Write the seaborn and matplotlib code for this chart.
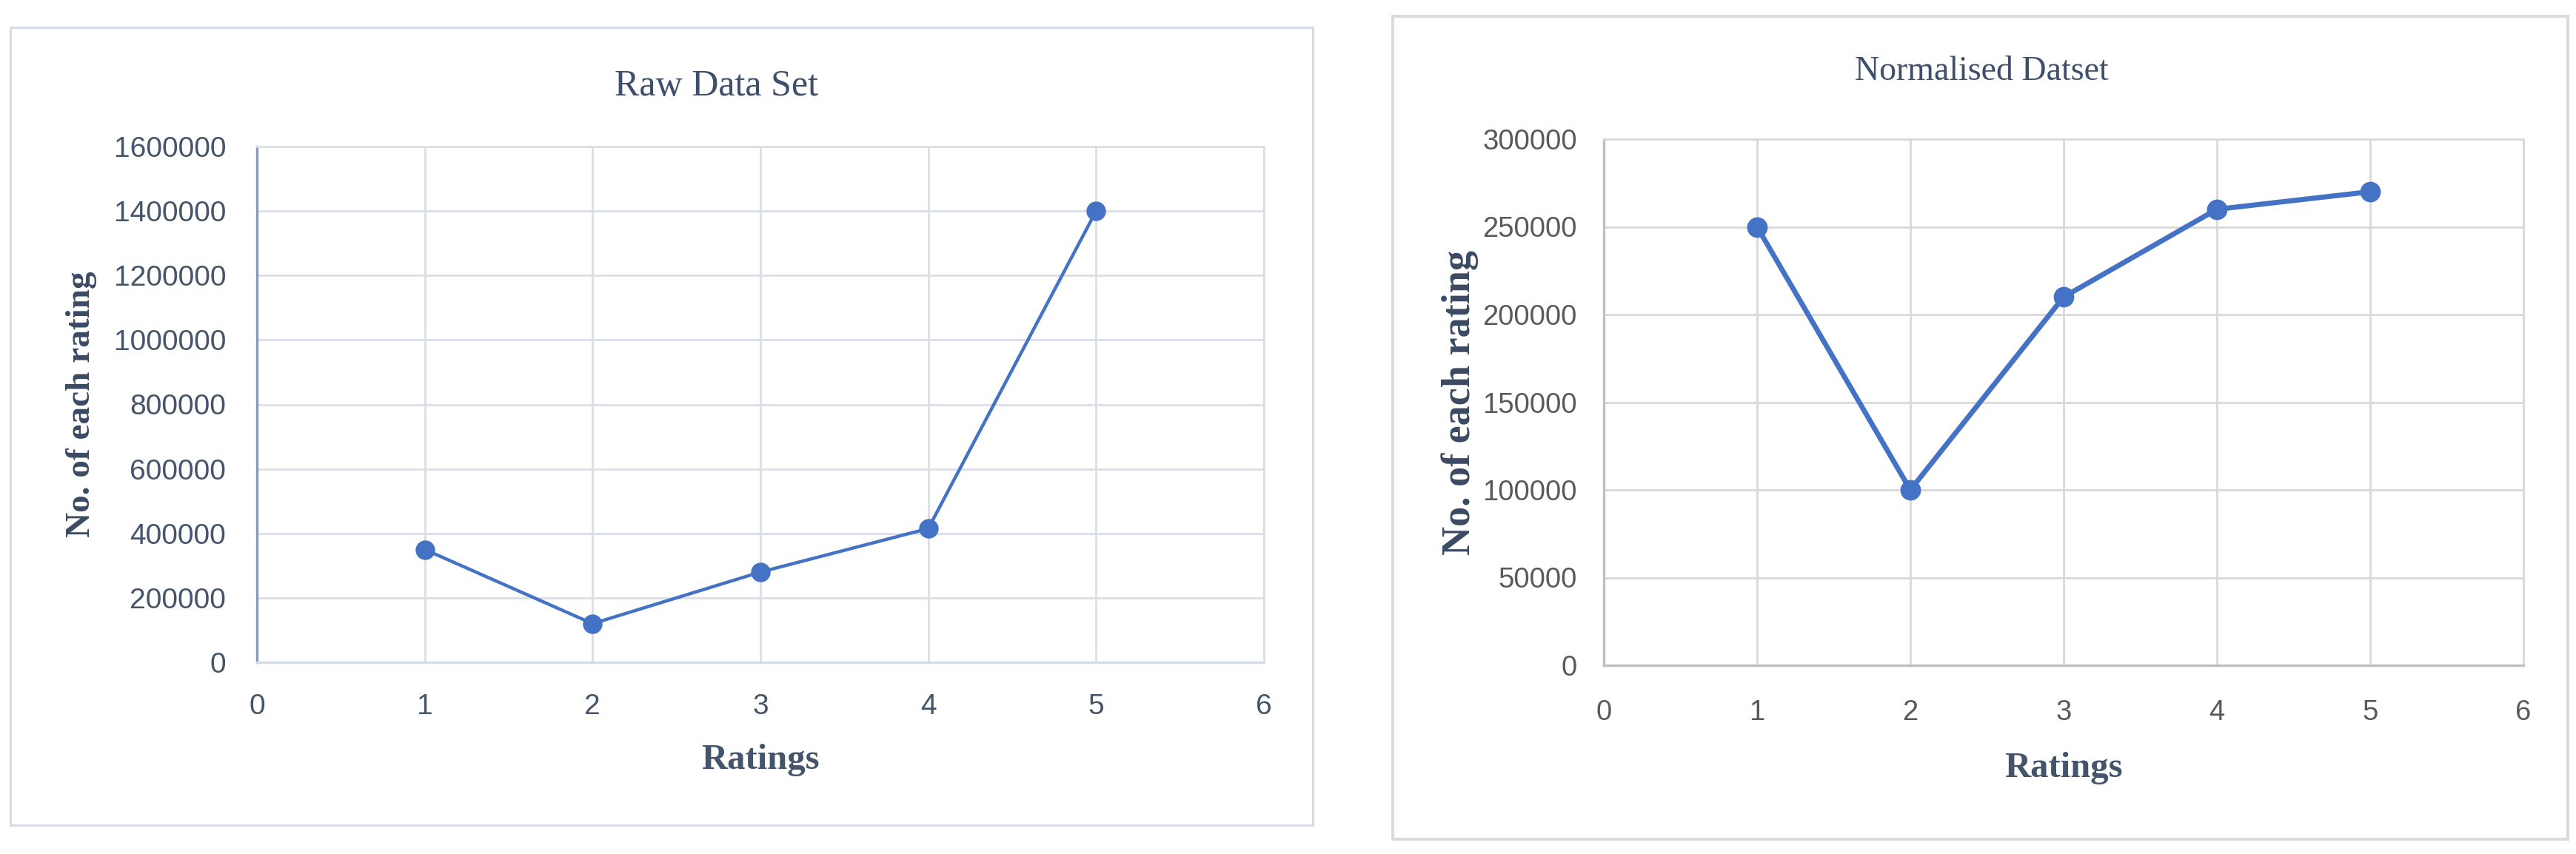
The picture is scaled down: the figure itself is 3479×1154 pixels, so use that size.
import numpy as np
import pandas as pd
import matplotlib
matplotlib.use("Agg")
import matplotlib.pyplot as plt
from matplotlib.patches import Rectangle
import seaborn as sns

# ---- data ----
ratings = [1, 2, 3, 4, 5]
raw_counts = [350000, 120000, 280000, 415000, 1400000]
norm_counts = [250000, 100000, 210000, 260000, 270000]
x_ticks = [0, 1, 2, 3, 4, 5, 6]
raw_yticks = [0, 200000, 400000, 600000, 800000, 1000000, 1200000, 1400000, 1600000]
norm_yticks = [0, 50000, 100000, 150000, 200000, 250000, 300000]
titles = ["Raw Data Set", "Normalised Datset"]
xlabel = "Ratings"
ylabel = "No. of each rating"

sns.set_theme(style="white")
plt.rcParams['font.family'] = ['Liberation Serif', 'DejaVu Serif']

W, H = 3480, 1154
DPI = 100
fig = plt.figure(figsize=(W / DPI, H / DPI), dpi=DPI)
fig.patch.set_facecolor("white")

# panel borders (chart-area frames)
fig.patches.append(Rectangle((14 / W, 1 - 1115 / H), (1773 - 14) / W, (1115 - 37) / H,
                             transform=fig.transFigure, fill=False,
                             edgecolor="#d6dce5", linewidth=2.2, zorder=0))
fig.patches.append(Rectangle((1881 / W, 1 - 1134 / H), (3468 - 1881) / W, (1134 - 22) / H,
                             transform=fig.transFigure, fill=False,
                             edgecolor="#d9d9d9", linewidth=2.8, zorder=0))

ax1 = fig.add_axes([347 / W, 1 - 895 / H, (1707 - 347) / W, (895 - 198) / H])
ax2 = fig.add_axes([2166 / W, 1 - 899 / H, (3408 - 2166) / W, (899 - 188) / H])

df_raw = pd.DataFrame({"Ratings": ratings, "Count": raw_counts})
df_norm = pd.DataFrame({"Ratings": ratings, "Count": norm_counts})

blue = "#4472c4"
tick_font = ['Liberation Sans Narrow', 'Liberation Sans', 'DejaVu Sans']
serif = ['Liberation Serif', 'DejaVu Serif']

def style_axes(ax, yticks, ylim, grid_col, tick_col, lspine_col, bspine_col,
               grid_lw, ytick_pad, xtick_pad, tick_size, ylab_size, xlab_size):
    ax.set_xlim(0, 6)
    ax.set_ylim(*ylim)
    ax.set_xticks(x_ticks)
    ax.set_yticks(yticks)
    ax.set_xticklabels([str(v) for v in x_ticks])
    ax.set_yticklabels([str(v) for v in yticks])
    ax.grid(True, color=grid_col, linewidth=grid_lw, zorder=0)
    ax.set_axisbelow(True)
    for s in ["top", "right"]:
        ax.spines[s].set_color(grid_col)
        ax.spines[s].set_linewidth(grid_lw)
    ax.spines["left"].set_color(lspine_col)
    ax.spines["left"].set_linewidth(grid_lw + 0.4)
    ax.spines["bottom"].set_color(bspine_col)
    ax.spines["bottom"].set_linewidth(grid_lw + 0.4)
    ax.tick_params(axis="both", length=0, colors=tick_col, labelsize=tick_size)
    ax.tick_params(axis="y", pad=ytick_pad)
    ax.tick_params(axis="x", pad=xtick_pad)
    for lab in ax.get_xticklabels() + ax.get_yticklabels():
        lab.set_family(tick_font)
    ax.set_xlabel(xlabel, fontsize=xlab_size, fontweight="bold", color="#44546a",
                  family=serif)
    ax.set_ylabel(ylabel, fontsize=ylab_size, fontweight="bold", color="#3b4a63",
                  family=serif)
    ax.set_facecolor("white")

sns.lineplot(data=df_raw, x="Ratings", y="Count", ax=ax1, color=blue,
             linewidth=3.2, marker="o", markersize=19, markeredgewidth=0, zorder=3)
sns.lineplot(data=df_norm, x="Ratings", y="Count", ax=ax2, color=blue,
             linewidth=5.0, marker="o", markersize=20, markeredgewidth=0, zorder=3)

style_axes(ax1, raw_yticks, (0, 1600000), "#d9dee8", "#44546a", "#8a9ab5", "#d6dce5",
           2.0, 30, 30, 28, 34, 35)
style_axes(ax2, norm_yticks, (0, 300000), "#d9d9d9", "#595959", "#bfbfbf", "#bfbfbf",
           2.0, 26, 33, 27.5, 39, 35)

ax1.yaxis.set_label_coords(-(347 - 110) / (1707 - 347), 0.5)
ax1.xaxis.set_label_coords(0.5, -(1027 - 895) / (895 - 198))
ax2.yaxis.set_label_coords(-(2166 - 1972) / (3408 - 2166), 0.5)
ax2.xaxis.set_label_coords(0.5, -(1038 - 899) / (899 - 188))
for ax in (ax1, ax2):
    ax.yaxis.label.set_verticalalignment("center")
    ax.xaxis.label.set_verticalalignment("center")

fig.text(968 / W, 1 - 117 / H, titles[0], ha="center", va="center",
         fontsize=36, color="#3d4f6b", family=serif)
fig.text(2676 / W, 1 - 97 / H, titles[1], ha="center", va="center",
         fontsize=33, color="#3d4f6b", family=serif)

fig.savefig("out.png", dpi=DPI, facecolor="white")
